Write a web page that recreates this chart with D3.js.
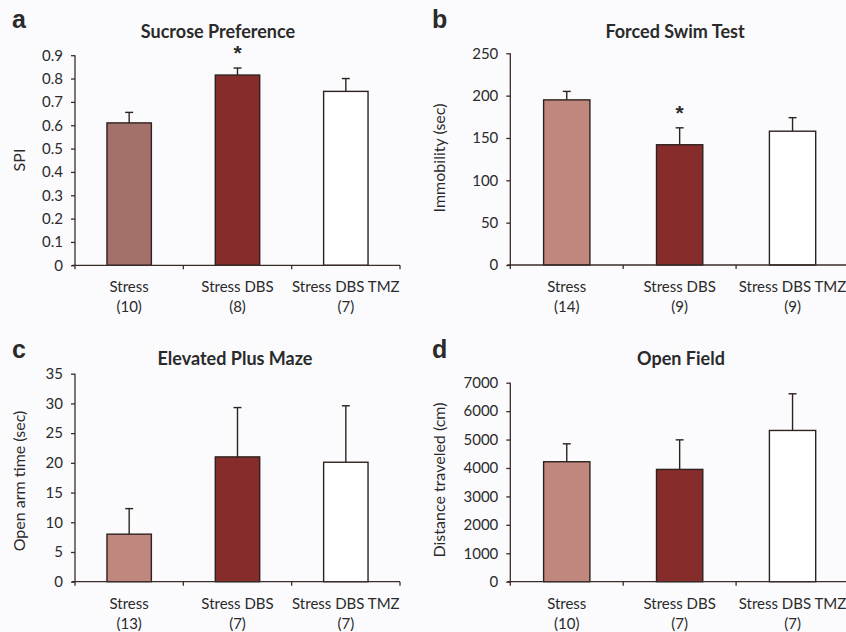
<!DOCTYPE html>
<html><head><meta charset="utf-8">
<script src="https://cdn.jsdelivr.net/npm/d3@7"></script>
<style>
body{margin:0;background:#fbfbfd;}
svg{display:block;}
text{font-family:Lato,"Open Sans",sans-serif;fill:#2a2a2a;}
</style></head>
<body>
<script>
const groups = ["Stress", "Stress DBS", "Stress DBS TMZ"];
const nA = ["(10)", "(8)", "(7)"];
const nB = ["(14)", "(9)", "(9)"];
const nC = ["(13)", "(7)", "(7)"];
const nD = ["(10)", "(7)", "(7)"];
const sucroseMean = [0.61, 0.815, 0.745];
const sucroseErr = [0.045, 0.03, 0.055];
const swimMean = [195, 142, 158];
const swimErr = [10, 20, 16];
const mazeMean = [8.0, 21.0, 20.1];
const mazeErr = [4.3, 8.3, 9.5];
const fieldMean = [4220, 3950, 5320];
const fieldErr = [630, 1040, 1290];
const ticksA = [0,0.1,0.2,0.3,0.4,0.5,0.6,0.7,0.8,0.9];
const ticksB = [0,50,100,150,200,250];
const ticksC = [0,5,10,15,20,25,30,35];
const ticksD = [0,1000,2000,3000,4000,5000,6000,7000];

const W = 846, H = 632;
const svg = d3.select("body").append("svg").attr("width", W).attr("height", H);
svg.append("rect").attr("width", W).attr("height", H).attr("fill", "#fbfbfd");

const axisColor = "#3a2c2a";
const barStroke = "#2e2220";
const dbsColor = "#862d2b";

function panel(o) {
  const g = svg.append("g");
  const x = d3.scaleBand().domain(groups).range([o.x0, o.x1]).paddingInner(0.59).paddingOuter(0.295);
  const y = d3.scaleLinear().domain([0, o.ticks[o.ticks.length-1]]).range([o.y0, o.yTop]);
  const fills = [o.stressColor, dbsColor, "#ffffff"];

  g.selectAll("rect.bar").data(o.mean).enter().append("rect")
    .attr("x", (d,i) => x(groups[i]))
    .attr("width", x.bandwidth())
    .attr("y", d => y(d))
    .attr("height", d => y(0) - y(d))
    .attr("fill", (d,i) => fills[i])
    .attr("stroke", barStroke).attr("stroke-width", 1.4);
  o.mean.forEach((m,i) => {
    const cx = x(groups[i]) + x.bandwidth()/2;
    g.append("line").attr("x1", cx).attr("x2", cx).attr("y1", y(m)).attr("y2", y(m + o.err[i]))
      .attr("stroke", barStroke).attr("stroke-width", 1.4);
    g.append("line").attr("x1", cx-4).attr("x2", cx+4).attr("y1", y(m + o.err[i])).attr("y2", y(m + o.err[i]))
      .attr("stroke", barStroke).attr("stroke-width", 1.4);
  });
  const ya = d3.axisLeft(y).tickValues(o.ticks).tickSize(4).tickPadding(8).tickFormat(d3.format(o.fmt));
  const yg = g.append("g").attr("transform", `translate(${o.x0},0)`).call(ya);
  yg.select(".domain").attr("stroke", axisColor).attr("stroke-width", 1.3).attr("d", `M0,${o.y0}V${o.yTop}`);
  yg.selectAll(".tick line").attr("stroke", axisColor).attr("stroke-width", 1.3);
  yg.selectAll(".tick text").style("font-family", "Lato, sans-serif").style("font-size", "15px").attr("fill", "#2a2a2a");
  const step = x.step();
  const bounds = [o.x0, o.x0 + step, o.x0 + 2*step, o.x0 + 3*step];
  g.append("line").attr("x1", o.x0 - 3).attr("x2", o.x1).attr("y1", o.y0).attr("y2", o.y0)
    .attr("stroke", axisColor).attr("stroke-width", 1.3);
  bounds.forEach(b => {
    g.append("line").attr("x1", b).attr("x2", b).attr("y1", o.y0).attr("y2", o.y0 + 4)
      .attr("stroke", axisColor).attr("stroke-width", 1.3);
  });
  groups.forEach((c,i) => {
    const cx = x(c) + x.bandwidth()/2;
    g.append("text").attr("x", cx).attr("y", o.y0 + 27).attr("text-anchor", "middle")
      .style("font-size", "15px").text(c);
    g.append("text").attr("x", cx).attr("y", o.y0 + 47).attr("text-anchor", "middle")
      .style("font-size", "15px").text(o.n[i]);
  });
  g.append("text").attr("transform", `translate(${o.ylx},${o.ylc}) rotate(-90)`)
    .attr("text-anchor", "middle").style("font-size", "16px").text(o.ylabel);
  g.append("text").attr("x", o.tx).attr("y", o.ty).attr("text-anchor", "middle")
    .style("font-size", "18px").style("font-weight", "bold").text(o.title);
  g.append("text").attr("x", o.lx).attr("y", o.ly)
    .style("font-family", "'Liberation Sans', Arial, sans-serif").style("font-size", "25px").style("font-weight", "bold")
    .attr("fill", "#111").text(o.letter);
  if (o.star != null) {
    const i = o.star;
    const cx = x(groups[i]) + x.bandwidth()/2;
    g.append("text").attr("x", cx).attr("y", y(o.mean[i] + o.err[i]) - 8).attr("text-anchor", "middle")
      .style("font-family", "'Liberation Sans', Arial, sans-serif").style("font-size", "21px").style("font-weight","bold")
      .attr("fill", "#222").text("*");
  }
}

panel({x0:75, x1:400, y0:265.3, yTop:55.2, ticks:ticksA, fmt:".1~f", mean:sucroseMean, err:sucroseErr,
  n:nA, stressColor:"#a4716a", ylabel:"SPI", ylx:25, ylc:160, title:"Sucrose Preference", tx:218, ty:38,
  letter:"a", lx:12, ly:28, star:1});
panel({x0:510.3, x1:849, y0:265, yTop:53.3, ticks:ticksB, fmt:"d", mean:swimMean, err:swimErr,
  n:nB, stressColor:"#c0877e", ylabel:"Immobility (sec)", ylx:445, ylc:158, title:"Forced Swim Test", tx:675, ty:38,
  letter:"b", lx:432, ly:28, star:1});
panel({x0:75, x1:400, y0:581.7, yTop:373.7, ticks:ticksC, fmt:"d", mean:mazeMean, err:mazeErr,
  n:nC, stressColor:"#c0877e", ylabel:"Open arm time (sec)", ylx:25, ylc:481, title:"Elevated Plus Maze", tx:235, ty:365,
  letter:"c", lx:12, ly:358, star:null});
panel({x0:510.3, x1:849, y0:581.7, yTop:382.7, ticks:ticksD, fmt:"d", mean:fieldMean, err:fieldErr,
  n:nD, stressColor:"#c0877e", ylabel:"Distance traveled (cm)", ylx:445, ylc:480, title:"Open Field", tx:681, ty:365,
  letter:"d", lx:432, ly:358, star:null});
</script>
</body></html>
